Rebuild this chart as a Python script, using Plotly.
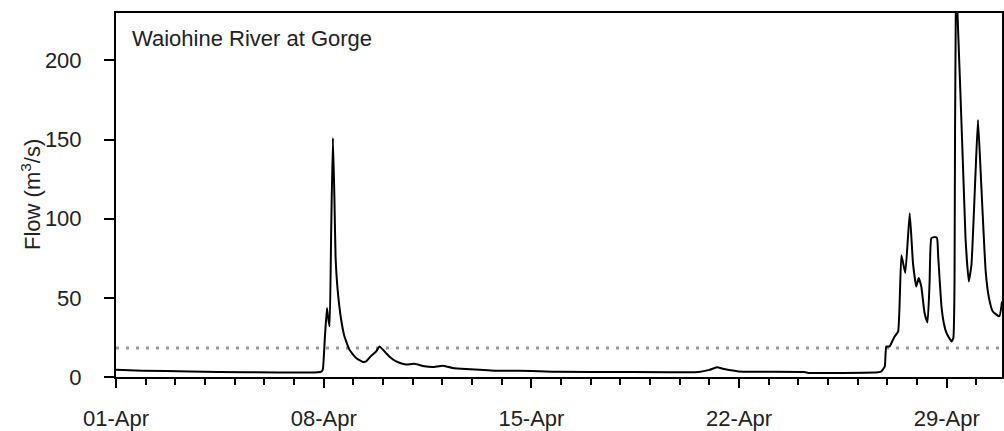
import pandas as pd
import plotly.graph_objects as go

# ---- data ----
start_date = "2005-04-01"
# elapsed time in days since 01-Apr 00:00
days = [0.0, 0.9, 2.5, 4.4, 6.8, 6.93, 6.97, 7.04, 7.11, 7.16, 7.2, 7.25, 7.31,
        7.36, 7.40, 7.47, 7.59, 7.70, 7.87, 8.09, 8.32, 8.43, 8.60, 8.77, 8.88,
        9.10, 9.21, 9.44, 9.55, 9.77, 10.05, 10.39, 10.67, 11.01, 11.34, 11.79,
        12.4, 12.8, 13.58, 14.48, 14.93, 17.0, 19.64,
        20.0, 20.25, 20.5, 20.98, 23.2, 23.34, 25.69, 25.8, 25.91, 25.96, 26.07, 26.24,
        26.36, 26.47, 26.6, 26.75, 26.86, 26.97, 27.05, 27.14, 27.25, 27.35, 27.42,
        27.48, 27.6, 27.67, 27.71, 27.82, 27.9, 27.99, 28.16, 28.22, 28.26, 28.31, 28.63,
        28.74, 28.83, 28.97, 29.05, 29.14, 29.31, 29.42, 29.55, 29.77, 29.86]
flow = [4.6, 4.0, 3.5, 3.0, 3.0, 3.6, 4.6, 25.0, 43.6, 36.0, 32.0, 90.0, 151.0,
        114.0, 76.0, 55.0, 36.0, 25.6, 17.2, 12.0, 9.5, 9.8, 13.4, 16.2, 19.3,
        15.1, 13.0, 9.8, 9.0, 7.9, 8.3, 6.8, 6.3, 7.1, 5.7, 5.0,
        4.5, 4.0, 4.0, 3.5, 3.3, 3.2, 3.2,
        4.5, 6.1, 5.0, 3.5, 3.2, 2.6, 3.0, 3.6, 6.7, 19.3, 19.3, 25.6,
        28.8, 77.0, 65.7, 103.5, 72.0, 57.2, 62.5, 57.2, 40.4, 34.5, 60.0,
        87.8, 88.4, 87.8, 76.1, 44.6, 34.0, 27.8, 22.5, 24.6, 60.0, 255.0, 87.8,
        60.4, 70.9, 129.8, 162.4, 129.8, 66.7, 50.0, 41.4, 38.3, 47.7]
threshold_flow = 18.3
site_name = "Waiohine River at Gorge"
y_label = "Flow (m<sup>3</sup>/s)"
y_ticks = [0, 50, 100, 150, 200]
y_max = 230
x_end_days = 29.86

t0 = pd.Timestamp(start_date)
times = [t0 + pd.Timedelta(days=d) for d in days]
t_end = t0 + pd.Timedelta(days=x_end_days)

FONT = "Liberation Sans, Arial, sans-serif"
TXT = "#222222"
FS = 22

fig = go.Figure()
fig.add_trace(go.Scatter(
    x=[t0, t_end], y=[threshold_flow, threshold_flow], mode="lines",
    line=dict(color="#9a9a9a", width=3, dash="3px,7px"),
    hoverinfo="skip", showlegend=False))
fig.add_trace(go.Scatter(
    x=times, y=flow, mode="lines",
    line=dict(color="black", width=2, shape="spline", smoothing=0.4),
    showlegend=False))

fig.update_layout(
    width=1004, height=431,
    margin=dict(l=116, r=0, t=13, b=54),
    paper_bgcolor="white", plot_bgcolor="white",
    font=dict(family=FONT, size=FS, color=TXT),
    annotations=[
        dict(text=site_name, xref="paper", yref="paper", x=0.0, y=1.0,
             xanchor="left", yanchor="top", xshift=14, yshift=-11,
             showarrow=False, font=dict(family=FONT, size=FS, color=TXT)),
        dict(text=y_label, xref="paper", yref="paper", x=0.0, y=0.5,
             xanchor="center", yanchor="middle", xshift=-85, textangle=-90,
             showarrow=False, font=dict(family=FONT, size=FS, color=TXT)),
    ],
)
fig.update_xaxes(
    range=[t0, t_end], type="date",
    tickformat="%d-%b", dtick=7 * 86400000, tick0=t0,
    ticks="outside", ticklen=9, tickwidth=2, tickcolor="black",
    showline=True, linewidth=2, linecolor="black", mirror=True,
    showgrid=False, zeroline=False,
    minor=dict(dtick=86400000, tick0=t0, ticks="outside", ticklen=6,
               tickwidth=2, tickcolor="black", showgrid=False),
    tickfont=dict(family=FONT, size=FS, color=TXT),
    ticklabelstandoff=12,
)
fig.update_yaxes(
    range=[0, y_max], tickvals=y_ticks,
    ticks="outside", ticklen=10, tickwidth=2, tickcolor="black",
    showline=True, linewidth=2, linecolor="black", mirror=True,
    showgrid=False, zeroline=False,
    tickfont=dict(family=FONT, size=FS, color=TXT),
    ticklabelstandoff=18,
)

fig.write_html("out.html")
